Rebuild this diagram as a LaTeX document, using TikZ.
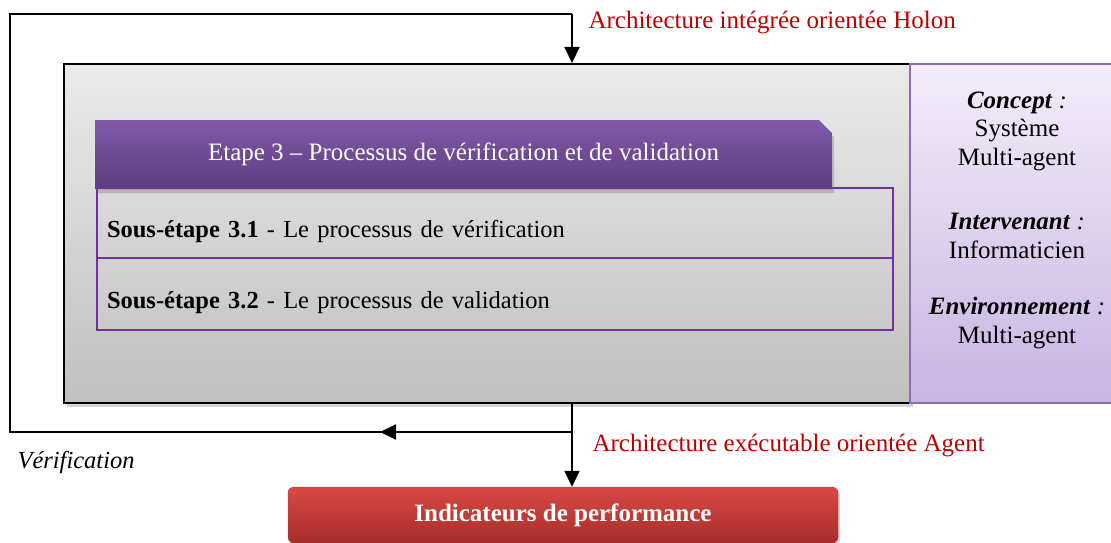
\documentclass[tikz,border=0pt]{standalone}
\usepackage{fontspec}
\setmainfont{Liberation Serif}
\usetikzlibrary{shapes.misc,shadows,arrows.meta}
\definecolor{labred}{RGB}{192,0,0}
\definecolor{headtop}{RGB}{128,90,168}
\definecolor{headbot}{RGB}{94,60,127}
\definecolor{subline}{RGB}{112,48,160}
\definecolor{sidetop}{RGB}{243,237,249}
\definecolor{sidebot}{RGB}{200,180,226}
\definecolor{sideline}{RGB}{138,107,181}
\definecolor{perftop}{RGB}{218,72,68}
\definecolor{perfbot}{RGB}{166,46,42}
\begin{document}
\begin{tikzpicture}[x=1pt,y=-1pt,every node/.style={font=\fontsize{25}{28.5}\selectfont},
  line/.style={line width=2pt},
  flow/.style={line width=2pt,-{Triangle[length=16pt,width=15pt]}},
  substep/.style={draw=subline,line width=1.5pt,text width=776,inner xsep=10pt,align=left,
    text height=32pt,text depth=4pt,font=\fontsize{24.5}{28}\selectfont}]
\useasboundingbox (0,0) rectangle (1111,543);
% main block
\node[draw,line width=2pt,top color=black!8,bottom color=black!25,minimum width=846,minimum height=339,
  drop shadow={opacity=0.35,shadow xshift=3pt,shadow yshift=-4pt}] (main) at (487,233.5) {};
\node[draw=sideline,line width=2pt,top color=sidetop,bottom color=sidebot,minimum width=214,minimum height=339] (side) at (1017,233.5) {};
\node[align=center] (concept) at (1017,131) {\textbf{\textit{Concept}} \textit{:}\\Système\\Multi-agent};
\node[align=center] (interv) at (1017,236) {\textbf{\textit{Intervenant}} \textit{:}\\Informaticien};
\node[align=center] (envir) at (1017,323) {\textbf{\textit{Environnement}} \textit{:}\\Multi-agent};
% step 3
\node[chamfered rectangle,chamfered rectangle corners=north east,chamfered rectangle xsep=10pt,
  top color=headtop,bottom color=headbot,text=white,minimum width=737,minimum height=69,
  drop shadow={opacity=0.4,shadow xshift=2pt,shadow yshift=-4pt}] (head) at (463.5,154.5)
  {Etape 3 -- Processus de vérification et de validation};
\node[substep,minimum height=70] (sub1) at (495,223) {\textbf{Sous-étape 3.1} - Le processus de vérification};
\node[substep,minimum height=72] (sub2) at (495,294) {\textbf{Sous-étape 3.2} - Le processus de validation};
% output
\node[draw=perfbot,rounded corners=6pt,top color=perftop,bottom color=perfbot,text=white,font=\fontsize{25}{28}\selectfont\bfseries,
  minimum width=550,minimum height=56,drop shadow={opacity=0.35,shadow xshift=2pt,shadow yshift=-3pt}] (perf) at (563,515)
  {Indicateurs de performance};
% loop
\coordinate (split) at (572,432);
\coordinate (fbmid) at (380,432);
\coordinate (fbL) at (10,432);
\coordinate (fbT) at (572,14);
\draw[line] (split) -- (fbL) |- (fbT);
\draw[flow] (split) -- (fbmid);
\draw[flow] (fbT) -- (main.north -| fbT);
\draw[flow] (main.south -| split) -- (perf.north -| split);
\node[labred,anchor=west] (holon) at (585,23) {Architecture intégrée orientée Holon};
\node[labred,anchor=west] (agent) at (589,446) {Architecture exécutable orientée Agent};
\node[anchor=west,font=\fontsize{24.5}{28}\selectfont\itshape] (verif) at (14,462) {Vérification};
\end{tikzpicture}
\end{document}
